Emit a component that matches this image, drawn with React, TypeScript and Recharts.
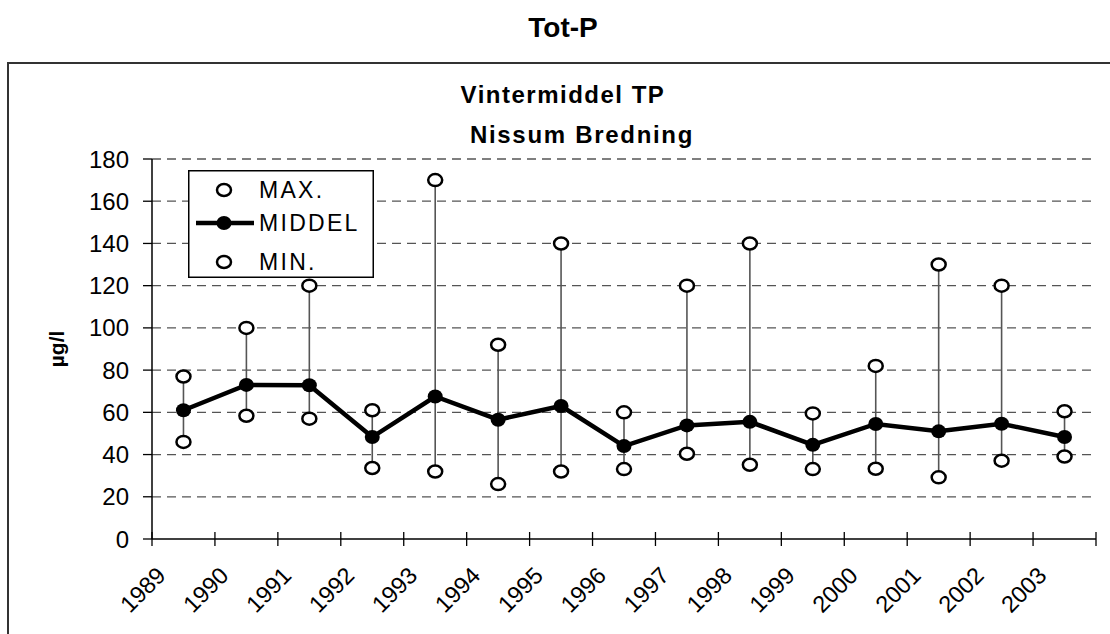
import React from 'react';
import { ComposedChart, Line, XAxis, YAxis, CartesianGrid, ErrorBar, Legend } from 'recharts';

const years = ['1989', '1990', '1991', '1992', '1993', '1994', '1995', '1996', '1997', '1998', '1999', '2000', '2001', '2002', '2003'];
const maxValues = [77, 100, 120, 61, 170, 92, 140, 60, 120, 140, 59.5, 82, 130, 120, 60.5];
const meanValues = [61, 73, 72.8, 48.3, 67.5, 56.5, 63, 44, 53.8, 55.5, 44.6, 54.5, 51, 54.6, 48.3];
const minValues = [46, 58.4, 57, 33.6, 32, 26, 32, 33.1, 40.4, 35.2, 33.1, 33.3, 29.2, 37.1, 39.1];
const yTicks = [0, 20, 40, 60, 80, 100, 120, 140, 160, 180];
const xTicks = [0, 1, 2, 3, 4, 5, 6, 7, 8, 9, 10, 11, 12, 13, 14, 15];

const data = years.map((year, i) => ({
  pos: i + 0.5,
  year,
  max: maxValues[i],
  mean: meanValues[i],
  min: minValues[i],
  span: [0, maxValues[i] - minValues[i]],
}));

const FONT = '"Liberation Sans", Arial, sans-serif';

const OpenDot = (props: any) => {
  const { cx, cy, index } = props;
  if (cx == null || cy == null) return <g key={index} />;
  return <ellipse key={index} cx={cx} cy={cy} rx={7} ry={6} fill="#fff" stroke="#000" strokeWidth={2.5} />;
};

const FilledDot = (props: any) => {
  const { cx, cy, index } = props;
  if (cx == null || cy == null) return <g key={index} />;
  return <ellipse key={index} cx={cx} cy={cy} rx={7.5} ry={7} fill="#000" />;
};

const YearTick = (props: any) => {
  const { x, y, payload } = props;
  const label = years[payload.value];
  const tx = x + 15;
  const ty = y + 38;
  return (
    <g>
      <line x1={x} x2={x} y1={y - 7} y2={y + 7} stroke="#000" strokeWidth={1.3} />
      {label && (
        <text x={tx} y={ty} transform={`rotate(-45, ${tx}, ${ty})`} textAnchor="end" fontSize={23.5} fontFamily={FONT} fill="#000">
          {label}
        </text>
      )}
    </g>
  );
};

const LegendBox = () => (
  <svg width={186} height={108} style={{ display: 'block' }}>
    <rect x={0.75} y={0.75} width={184.5} height={106.5} fill="#fff" stroke="#000" strokeWidth={1.5} />
    <ellipse cx={36} cy={20} rx={7} ry={6} fill="#fff" stroke="#000" strokeWidth={2.5} />
    <line x1={8} x2={66} y1={53} y2={53} stroke="#000" strokeWidth={4.5} />
    <ellipse cx={36} cy={53} rx={7.5} ry={7} fill="#000" />
    <ellipse cx={36} cy={92} rx={7} ry={6} fill="#fff" stroke="#000" strokeWidth={2.5} />
    <g fontFamily={FONT} fontSize={23} letterSpacing={2.3} fill="#000">
      <text x={71} y={28}>MAX.</text>
      <text x={71} y={61}>MIDDEL</text>
      <text x={71} y={100}>MIN.</text>
    </g>
  </svg>
);

export default function App() {
  return (
    <div style={{ position: 'relative', width: 1110, height: 634, overflow: 'hidden', background: '#fff' }}>
      <style>{'body{margin:0}'}</style>
      <svg width={1110} height={634} style={{ position: 'absolute', left: 0, top: 0 }}>
        <rect x={8} y={63} width={1120} height={600} fill="#fff" stroke="#333" strokeWidth={2} />
        <text x={563} y={37} textAnchor="middle" fontFamily={FONT} fontWeight="bold" fontSize={28} fill="#000">Tot-P</text>
        <text x={563} y={103} textAnchor="middle" fontFamily={FONT} fontWeight="bold" fontSize={24} letterSpacing={1.5} fill="#000">Vintermiddel  TP</text>
        <text x={582} y={143} textAnchor="middle" fontFamily={FONT} fontWeight="bold" fontSize={24} letterSpacing={1.7} fill="#000">Nissum Bredning</text>
        <text x={0} y={0} transform="translate(64, 349) rotate(-90)" textAnchor="middle" fontFamily={FONT} fontWeight="bold" fontSize={21} fill="#000">µg/l</text>
      </svg>
      <div style={{ position: 'absolute', left: 0, top: 0 }}>
        <ComposedChart width={1110} height={634} data={data} margin={{ top: 159, right: 14, left: 0, bottom: 0 }}>
          <CartesianGrid vertical={false} horizontalValues={[20, 40, 60, 80, 100, 120, 140, 160, 180]} stroke="#555" strokeWidth={1.3} strokeDasharray="9 6" />
          <XAxis
            type="number"
            dataKey="pos"
            domain={[0, 15]}
            ticks={xTicks}
            interval={0}
            height={95}
            tickSize={0}
            tickMargin={0}
            tickLine={false}
            axisLine={{ stroke: '#000', strokeWidth: 1.5 }}
            tick={<YearTick />}
          />
          <YAxis
            type="number"
            domain={[0, 180]}
            ticks={yTicks}
            interval={0}
            width={152}
            tickSize={9}
            tickMargin={14}
            axisLine={{ stroke: '#000', strokeWidth: 1.5 }}
            tickLine={{ stroke: '#000', strokeWidth: 1.3 }}
            tick={{ fill: '#000', fontSize: 24, fontFamily: FONT }}
          />
          <Legend layout="vertical" align="center" verticalAlign="middle" content={<LegendBox />} wrapperStyle={{ left: 188, top: 170, width: 186, height: 108 }} />
          <Line dataKey="min" name="MIN." stroke="none" dot={<OpenDot />} activeDot={false} isAnimationActive={false} legendType="circle">
            <ErrorBar dataKey="span" direction="y" width={0} stroke="#555" strokeWidth={1.6} />
          </Line>
          <Line dataKey="mean" name="MIDDEL" stroke="#000" strokeWidth={4.5} dot={<FilledDot />} activeDot={false} isAnimationActive={false} />
          <Line dataKey="max" name="MAX." stroke="none" dot={<OpenDot />} activeDot={false} isAnimationActive={false} legendType="circle" />
        </ComposedChart>
      </div>
    </div>
  );
}
